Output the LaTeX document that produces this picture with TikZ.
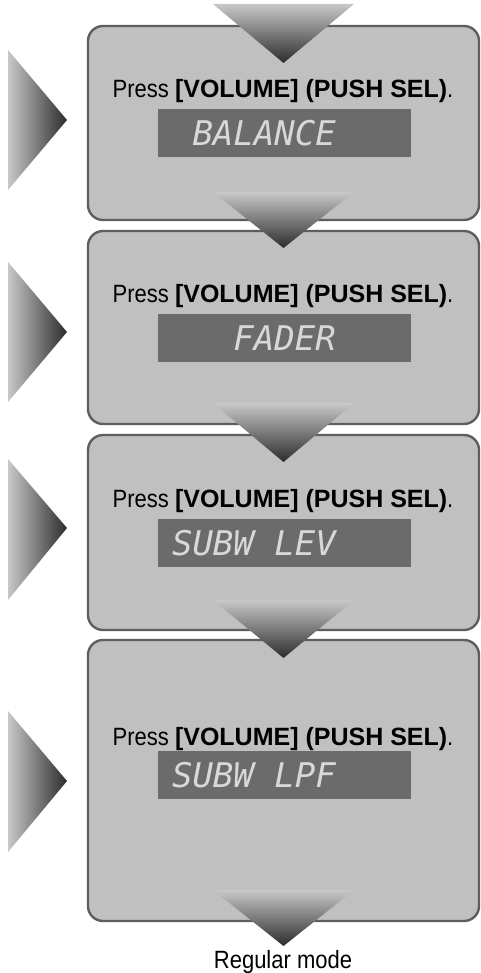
\documentclass[tikz,border=0pt]{standalone}
\usepackage{fontspec}
\setmainfont{Liberation Sans}
\newfontfamily\narrowfont{Liberation Sans}[FakeStretch=0.88]
\newfontfamily\keyfont{Liberation Sans}
\newfontfamily\lcdfont{DejaVu Sans Mono}
\usepackage{xcolor}
\definecolor{xpanel}{HTML}{C0C0C0}
\definecolor{xedge}{HTML}{5E5E5E}
\definecolor{xlcd}{HTML}{6B6B6B}
\definecolor{xseg}{HTML}{D8D8D8}
\definecolor{xlight}{HTML}{C8C8C8}
\definecolor{xdark}{HTML}{2C2C2C}
\tikzset{
	panel/.style={fill=xpanel, draw=xedge, line width=2.4pt, rounded corners=15pt, inner sep=0pt, minimum width=391pt},
	lcd/.style={fill=xlcd, inner sep=0pt, minimum width=253pt, minimum height=48pt},
	segtext/.style={anchor=east, inner sep=0pt, text=xseg, font=\lcdfont\itshape\fontsize{34}{34}\selectfont},
	presstext/.style={anchor=base, inner sep=0pt, font=\fontsize{25}{30}\selectfont},
	downarrow/.style={top color=xlight, bottom color=xdark},
	sidearrow/.style={left color=xlight, right color=xdark},
}
\newcommand{\pressline}{{\narrowfont Press }{\keyfont\bfseries [VOLUME] (PUSH SEL)}{\narrowfont .}}

\begin{document}
\begin{tikzpicture}[x=1pt, y=-1pt]
	\useasboundingbox[fill=white] (0,0) rectangle (481,973);

	\node[panel, minimum height=194pt] (P1) at (283.5,123) {};
	\node[panel, minimum height=193pt] (P2) at (283.5,327.5) {};
	\node[panel, minimum height=195pt] (P3) at (283.5,532.5) {};
	\node[panel, minimum height=281pt] (P4) at (283.5,780.5) {};

	\node[presstext] (T1) at (283,98) {\pressline};
	\node[presstext] (T2) at (283,302) {\pressline};
	\node[presstext] (T3) at (283,507) {\pressline};
	\node[presstext] (T4) at (283,745) {\pressline};

	\node[lcd] (D1) at (284.5,133) {};
	\node[lcd] (D2) at (284.5,338) {};
	\node[lcd] (D3) at (284.5,543) {};
	\node[lcd] (D4) at (284.5,775) {};

	\node[segtext] (L1) at (336,133) {BALANCE};
	\node[segtext] (L2) at (336,338) {FADER};
	\node[segtext] (L3) at (336,543) {SUBW LEV};
	\node[segtext] (L4) at (336,775) {SUBW LPF};

	% side arrows
	\shade[sidearrow] (8,50) -- (67,120) -- (8,190) -- cycle;
	\shade[sidearrow] (8,262) -- (67,332) -- (8,402) -- cycle;
	\shade[sidearrow] (8,459) -- (67,528) -- (8,600) -- cycle;
	\shade[sidearrow] (8,711) -- (67,781) -- (8,852) -- cycle;

	% down arrows
	\shade[downarrow] (213,4) -- (354,4) -- (283.5,63) -- cycle;
	\shade[downarrow] (213,192) -- (354,192) -- (283.5,248) -- cycle;
	\shade[downarrow] (213,403) -- (354,403) -- (283.5,462) -- cycle;
	\shade[downarrow] (213,600) -- (354,600) -- (283.5,658) -- cycle;
	\shade[downarrow] (213,890) -- (354,890) -- (283.5,946) -- cycle;

	\node[presstext, font=\narrowfont\fontsize{25}{30}\selectfont] (R) at (283,968) {Regular mode};
\end{tikzpicture}
\end{document}
